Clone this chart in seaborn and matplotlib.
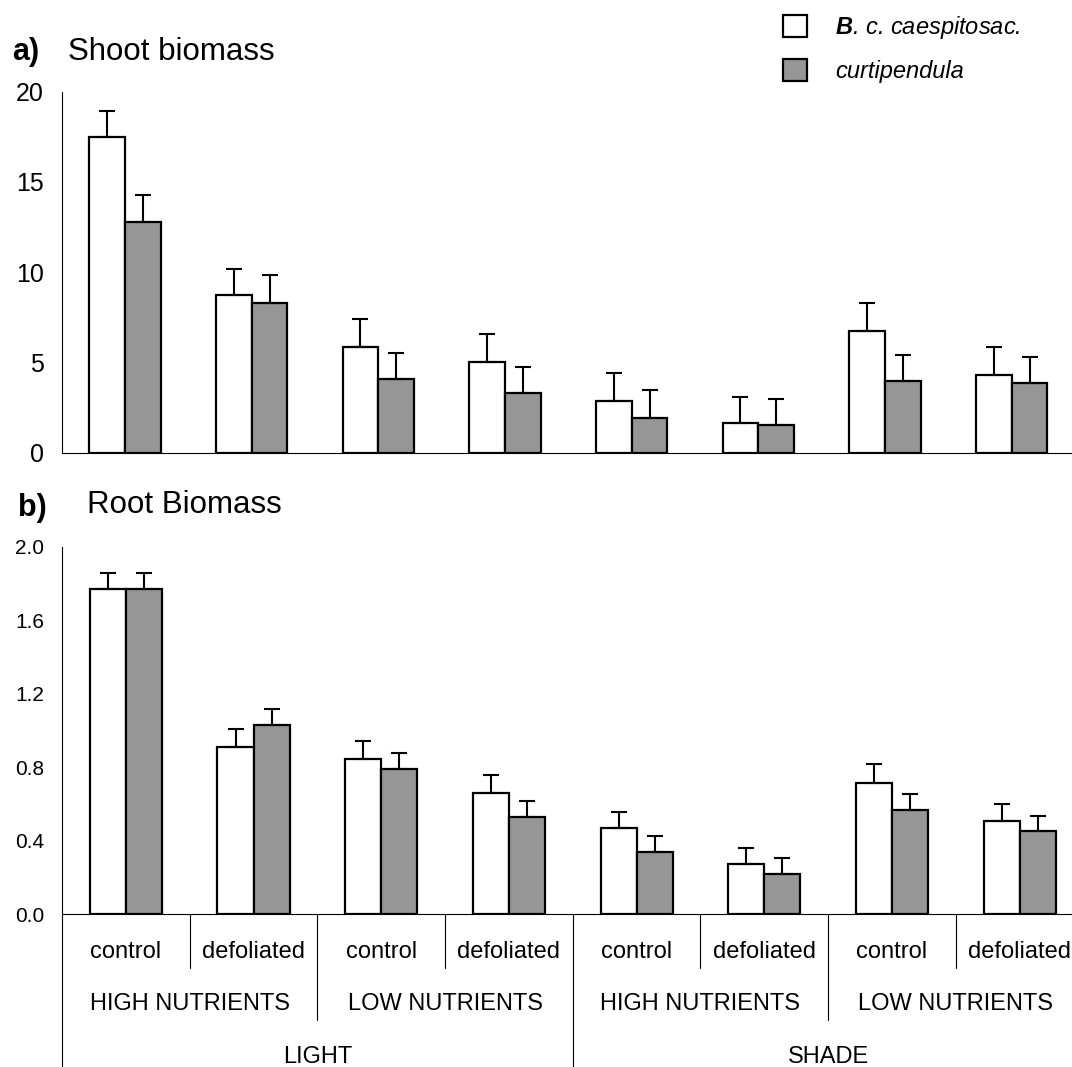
import numpy as np
import pandas as pd
import seaborn as sns
import matplotlib
matplotlib.use("Agg")
import matplotlib.pyplot as plt
from matplotlib.patches import Patch

# ---------------- data ----------------
treatments = ["control", "defoliated", "control", "defoliated",
              "control", "defoliated", "control", "defoliated"]
nutrients = ["HIGH NUTRIENTS", "LOW NUTRIENTS", "HIGH NUTRIENTS", "LOW NUTRIENTS"]
light = ["LIGHT", "SHADE"]
species = ["B. c. caespitosac.", "curtipendula"]

shoot_caes = [17.5, 8.75, 5.85, 5.05, 2.85, 1.65, 6.75, 4.3]
shoot_caes_se = [1.45, 1.45, 1.55, 1.55, 1.55, 1.45, 1.55, 1.55]
shoot_curt = [12.8, 8.3, 4.1, 3.3, 1.95, 1.55, 3.95, 3.85]
shoot_curt_se = [1.45, 1.55, 1.45, 1.45, 1.55, 1.4, 1.45, 1.45]

root_caes = [1.77, 0.91, 0.845, 0.66, 0.468, 0.272, 0.716, 0.509]
root_caes_se = [0.087, 0.10, 0.10, 0.098, 0.087, 0.087, 0.10, 0.089]
root_curt = [1.77, 1.03, 0.79, 0.53, 0.337, 0.218, 0.566, 0.455]
root_curt_se = [0.087, 0.087, 0.087, 0.087, 0.089, 0.087, 0.087, 0.078]

shoot_ticks = [0, 5, 10, 15, 20]
root_ticks = [0.0, 0.4, 0.8, 1.2, 1.6, 2.0]

# ---------------- style ----------------
sns.set_style("white")
plt.rcParams["font.family"] = ["Liberation Sans", "DejaVu Sans"]
plt.rcParams["mathtext.fontset"] = "custom"
plt.rcParams["mathtext.bf"] = "Liberation Sans:italic:bold"
plt.rcParams["mathtext.it"] = "Liberation Sans:italic"
plt.rcParams["mathtext.rm"] = "Liberation Sans"
for k in ["text.color", "axes.labelcolor", "xtick.color", "ytick.color", "axes.edgecolor"]:
    plt.rcParams[k] = "black"

GRAY = "#969696"
W, H = 1072, 1067
fig = plt.figure(figsize=(W / 100, H / 100), dpi=100)

cond = [f"c{i}" for i in range(8)]


def frame(vals_a, vals_b):
    return pd.DataFrame({
        "cond": cond * 2,
        "species": [species[0]] * 8 + [species[1]] * 8,
        "value": list(vals_a) + list(vals_b),
    })


def px_axes(left, right, top, bottom):
    return fig.add_axes([left / W, (H - bottom) / H, (right - left) / W, (bottom - top) / H])


def draw_panel(ax, df, errs, ylim, ticks, fmt, tsize):
    sns.barplot(data=df, x="cond", y="value", hue="species", order=cond,
                hue_order=species, palette=["white", GRAY], edgecolor="black",
                linewidth=1.6, width=0.565, gap=0, errorbar=None, legend=False,
                saturation=1, ax=ax)
    for cont, err in zip(ax.containers, errs):
        xs = [p.get_x() + p.get_width() / 2 for p in cont]
        hs = [p.get_height() for p in cont]
        ax.errorbar(xs, hs, yerr=[np.zeros(len(err)), err], fmt="none",
                    ecolor="black", elinewidth=1.5, capsize=5.5, capthick=1.5, zorder=1)
    ax.set_xlim(-0.5, 7.5)
    ax.set_ylim(*ylim)
    ax.set_yticks(ticks)
    ax.set_yticklabels([fmt.format(t) for t in ticks], fontsize=tsize)
    ax.tick_params(axis="y", direction="out", length=6, width=0.8, pad=7, colors="black")
    ax.tick_params(axis="x", length=0, labelbottom=False)
    ax.set_xlabel("")
    ax.set_ylabel("")
    for s in ["top", "right"]:
        ax.spines[s].set_visible(False)
    for s in ["left", "bottom"]:
        ax.spines[s].set_color("black")
        ax.spines[s].set_linewidth(0.8)


# top panel
ax1 = px_axes(61.6, 1075, 91.7, 452.7)
draw_panel(ax1, frame(shoot_caes, shoot_curt), [shoot_caes_se, shoot_curt_se],
           (0, 20), shoot_ticks, "{:g}", 18)

# bottom panel
ax2 = px_axes(62, 1083.6, 546.7, 914.3)
draw_panel(ax2, frame(root_caes, root_curt), [root_caes_se, root_curt_se],
           (0, 2.0), root_ticks, "{:.1f}", 15)

# category table below bottom panel
trans = ax2.get_xaxis_transform()
axh = 914.3 - 546.7
def yf(px):
    return -(px - 914.3) / axh

for i, t in enumerate(treatments):
    ax2.text(i, yf(958.3), t, transform=trans, ha="center", va="baseline", fontsize=17)
for j, n in enumerate(nutrients):
    ax2.text(2 * j + 0.5, yf(1010), n, transform=trans, ha="center", va="baseline", fontsize=17)
for k, l in enumerate(light):
    ax2.text(4 * k + 1.5, yf(1063), l, transform=trans, ha="center", va="baseline", fontsize=17)

for x in [0.5, 2.5, 4.5, 6.5]:
    ax2.plot([x, x], [0, yf(967.7)], transform=trans, color="black", lw=0.8, clip_on=False)
for x in [1.5, 5.5]:
    ax2.plot([x, x], [0, yf(1020)], transform=trans, color="black", lw=0.8, clip_on=False)
for x in [3.5]:
    ax2.plot([x, x], [0, yf(1075)], transform=trans, color="black", lw=0.8, clip_on=False)
ax2.spines["left"].set_bounds(0, 2.0)
ax2.plot([-0.5, -0.5], [0, yf(1075)], transform=trans, color="black", lw=0.8, clip_on=False)

# panel titles
fig.text(12.3 / W, (H - 60) / H, "a)", fontsize=22, fontweight="bold", va="baseline")
fig.text(68.3 / W, (H - 60) / H, "Shoot biomass", fontsize=22.5, va="baseline")
fig.text(18.3 / W, (H - 516) / H, "b)", fontsize=22, fontweight="bold", va="baseline")
fig.text(87.3 / W, (H - 513) / H, "Root Biomass", fontsize=22.5, va="baseline")

# legend
handles = [Patch(facecolor="white", edgecolor="black", linewidth=1.6),
           Patch(facecolor=GRAY, edgecolor="black", linewidth=1.6)]
labels = [r"$\mathbf{B}$. c. caespitosac.", "curtipendula"]
leg = fig.legend(handles, labels, loc="upper left",
                 bbox_to_anchor=(783 / W, (H - 14) / H), frameon=False,
                 prop={"style": "italic", "size": 17}, handlelength=1.0,
                 handleheight=1.05, handletextpad=1.2, labelspacing=0.78,
                 borderpad=0, borderaxespad=0)
for t in leg.get_texts():
    t.set_color("black")

fig.savefig("out.png", dpi=100)
